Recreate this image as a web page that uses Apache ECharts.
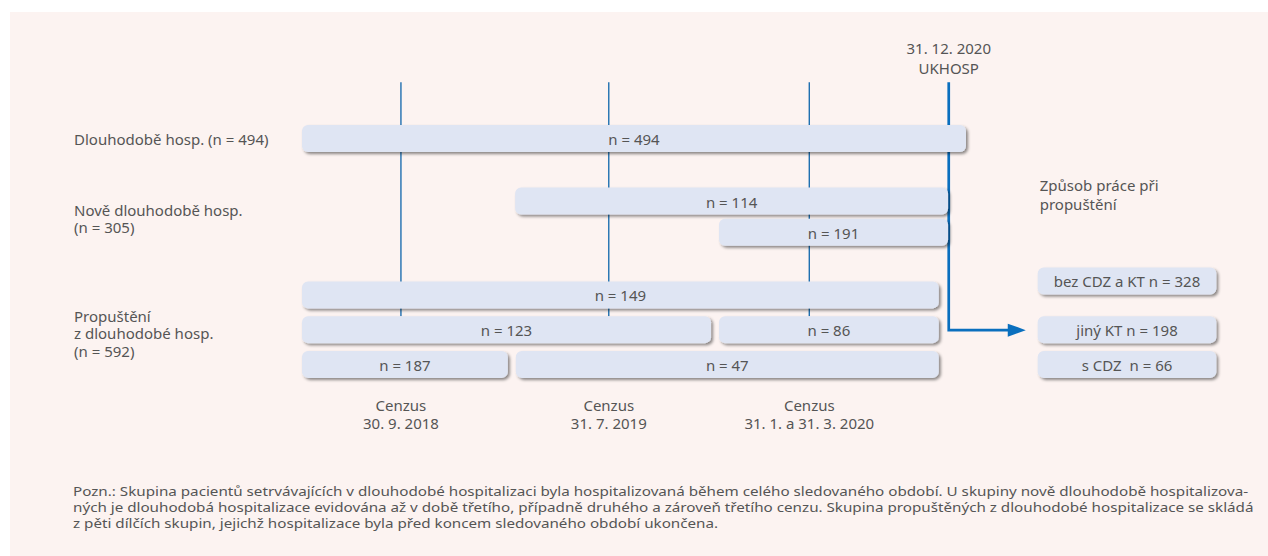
<!DOCTYPE html>
<html>
<head>
<meta charset="utf-8">
<script src="https://cdn.jsdelivr.net/npm/echarts@6/dist/echarts.min.js"></script>
<style>
  html, body { margin: 0; padding: 0; background: #ffffff; }
  #chart { width: 1268px; height: 556px; }
</style>
</head>
<body>
<div id="chart"></div>
<script>
// ---- Data (schematic timeline units on x, lane units on y) ----
const groupLabels = ['Dlouhodobě hosp. (n = 494)', 'Nově dlouhodobě hosp.\n(n = 305)', 'Propuštění\nz dlouhodobé hosp.\n(n = 592)'];
const groupLanes = [4.0, 6.29, 9.59];

const barLabels = ['n = 494', 'n = 114', 'n = 191', 'n = 149', 'n = 123', 'n = 86', 'n = 187', 'n = 47'];
const barStart  = [0, 32.1, 62.8, 0, 0, 62.8, 0, 32.2];
const barEnd    = [100, 97.3, 97.3, 95.9, 61.6, 95.9, 31.0, 95.9];
const barLane   = [4.0, 5.8, 6.7, 8.5, 9.5, 9.5, 10.5, 10.5];

const outcomeTitle = 'Způsob práce při\npropuštění';
const outcomeLabels = ['bez CDZ a KT n = 328', 'jiný KT n = 198', 's CDZ  n = 66'];
const outcomeLanes  = [8.1, 9.5, 10.5];
const outcomeStart  = 110.8;
const outcomeEnd    = 137.7;

const censusLabels = ['Cenzus\n30. 9. 2018', 'Cenzus\n31. 7. 2019', 'Cenzus\n31. 1. a 31. 3. 2020'];
const censusPos    = [14.9, 46.2, 76.4];
const endLabel = '31. 12. 2020\nUKHOSP';
const endPos   = 97.4;
const arrowTip = 109.0;
const arrowLane = 9.5;

const footnote = [
  'Pozn.: Skupina pacientů setrvávajících v dlouhodobé hospitalizaci byla hospitalizovaná během celého sledovaného období. U skupiny nově dlouhodobě hospitalizova-',
  'ných je dlouhodobá hospitalizace evidována až v době třetího, případně druhého a zároveň třetího cenzu. Skupina propuštěných z dlouhodobé hospitalizace se skládá',
  'z pěti dílčích skupin, jejichž hospitalizace byla před koncem sledovaného období ukončena.'
];

// ---- Styles ----
const FONT = '"Noto Sans", "Open Sans", sans-serif';
const TEXT = '#555555';
const BAR = '#dfe5f3';
const LINE = '#1f6fb0';
const LINE_END = '#0a6fbe';
const LINE_TOP = 2.37, CENSUS_BOTTOM = 9.1;

const chart = echarts.init(document.getElementById('chart'), null, { renderer: 'svg' });

function boxItem(x1, x2, lane, label, api) {
  const s = api.coord([x1, lane]);
  const e = api.coord([x2, lane]);
  return {
    type: 'group',
    children: [
      { type: 'rect', shape: { x: s[0], y: s[1] - 14, width: e[0] - s[0], height: 27, r: 6 },
        style: { fill: BAR, shadowBlur: 3, shadowOffsetX: 2, shadowOffsetY: 2, shadowColor: 'rgba(0,0,0,0.45)' } },
      { type: 'text', z2: 10, style: { text: label, x: (s[0] + e[0]) / 2, y: s[1], align: 'center', verticalAlign: 'middle',
        fontSize: 15, fontFamily: FONT, fill: TEXT } }
    ]
  };
}

const option = {
  backgroundColor: '#ffffff',
  animation: false,
  grid: { left: 302, width: 929.6, top: 0, height: 560 },
  xAxis: { type: 'value', min: 0, max: 140, show: false },
  yAxis: { type: 'value', min: 0, max: 16, inverse: true, show: false },
  graphic: [
    { type: 'rect', z: -10, shape: { x: 10, y: 12, width: 1258, height: 544 }, style: { fill: '#fcf3f1' } },
    ...footnote.map((t, i) => ({
      type: 'text', x: 73, y: 484 + i * 16, scaleX: 1.17, originX: 0, originY: 0,
      style: { text: t, x: 0, y: 0, fontSize: 13, fontFamily: FONT, fill: TEXT }
    }))
  ],
  series: [
    // census vertical lines
    {
      type: 'custom', z: 1,
      data: censusPos.map(p => [p, LINE_TOP, CENSUS_BOTTOM]),
      encode: { x: 0, y: [1, 2] },
      renderItem: (params, api) => {
        const a = api.coord([api.value(0), api.value(1)]);
        const b = api.coord([api.value(0), api.value(2)]);
        return { type: 'line', shape: { x1: a[0], y1: a[1], x2: b[0], y2: b[1] }, style: { stroke: LINE, lineWidth: 1.4 } };
      }
    },
    // end-of-period line with arrow
    {
      type: 'custom', z: 1,
      data: [[endPos, LINE_TOP, arrowLane, arrowTip]],
      encode: { x: [0, 3], y: [1, 2] },
      renderItem: (params, api) => {
        const top = api.coord([api.value(0), api.value(1)]);
        const corner = api.coord([api.value(0), api.value(2)]);
        const tip = api.coord([api.value(3), api.value(2)]);
        return {
          type: 'group',
          children: [
            { type: 'polyline', shape: { points: [top, corner, [tip[0] - 12, tip[1]]] },
              style: { stroke: LINE_END, lineWidth: 2.7, fill: null } },
            { type: 'polygon', shape: { points: [[tip[0], tip[1]], [tip[0] - 18, tip[1] - 6.5], [tip[0] - 18, tip[1] + 6.5]] },
              style: { fill: LINE_END } }
          ]
        };
      }
    },
    // main bars
    {
      type: 'custom', z: 3,
      data: barStart.map((s, i) => [s, barEnd[i], barLane[i]]),
      encode: { x: [0, 1], y: 2 },
      renderItem: (params, api) => boxItem(api.value(0), api.value(1), api.value(2), barLabels[params.dataIndex], api)
    },
    // outcome boxes
    {
      type: 'custom', z: 3,
      data: outcomeLanes.map(l => [outcomeStart, outcomeEnd, l]),
      encode: { x: [0, 1], y: 2 },
      renderItem: (params, api) => boxItem(api.value(0), api.value(1), api.value(2), outcomeLabels[params.dataIndex], api)
    },
    // census labels + end label
    {
      type: 'custom', z: 4,
      data: censusPos.map((p, i) => [p, 11.91, i]).concat([[endPos, 1.66, 3]]),
      encode: { x: 0, y: 1 },
      renderItem: (params, api) => {
        const p = api.coord([api.value(0), api.value(1)]);
        const idx = api.value(2);
        const txt = idx < 3 ? censusLabels[idx] : endLabel;
        return { type: 'text', style: { text: txt, x: p[0], y: p[1], align: 'center', verticalAlign: 'middle',
          fontSize: 15, fontFamily: FONT, fill: TEXT, lineHeight: idx < 3 ? 18 : 20 } };
      }
    },
    // group labels on the left
    {
      type: 'custom', z: 4,
      data: groupLanes.map(l => [0, l]),
      encode: { x: 0, y: 1 },
      renderItem: (params, api) => {
        const p = api.coord([api.value(0), api.value(1)]);
        return { type: 'text', style: { text: groupLabels[params.dataIndex], x: 74, y: p[1], align: 'left', verticalAlign: 'middle',
          fontSize: 15, fontFamily: FONT, fill: TEXT, lineHeight: 17.5 } };
      }
    },
    // outcome title
    {
      type: 'custom', z: 4,
      data: [[outcomeStart, 5.59]],
      encode: { x: 0, y: 1 },
      renderItem: (params, api) => {
        const p = api.coord([api.value(0), api.value(1)]);
        return { type: 'text', style: { text: outcomeTitle, x: p[0] + 2, y: p[1], align: 'left', verticalAlign: 'middle',
          fontSize: 15, fontFamily: FONT, fill: TEXT, lineHeight: 19 } };
      }
    }
  ]
};
chart.setOption(option);
</script>
</body>
</html>
